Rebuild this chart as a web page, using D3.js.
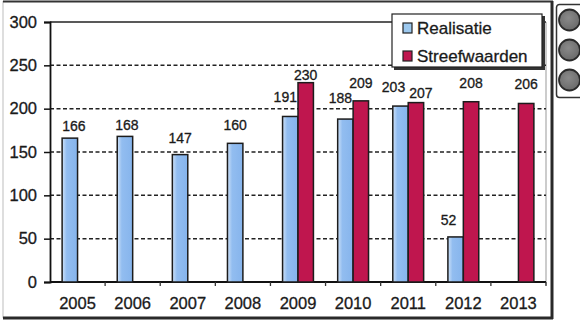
<!DOCTYPE html>
<html><head><meta charset="utf-8">
<script src="https://cdn.jsdelivr.net/npm/d3@7"></script>
<style>body{margin:0;background:#fff}svg{display:block}text{font-family:"Liberation Sans",Arial,sans-serif;fill:#1a1a1a;stroke:#1a1a1a;stroke-width:0.3px}</style>
</head><body><svg id="c" width="580" height="322"></svg>
<script>
const years = ["2005","2006","2007","2008","2009","2010","2011","2012","2013"];
const realisatie = [166,168,147,160,191,188,203,52,null];
const streefwaarden = [null,null,null,null,230,209,207,208,206];
const seriesNames = ["Realisatie","Streefwaarden"];
const yTicks = [0,50,100,150,200,250,300];
// label nudges [dx, dy] (layout only)
const nudgeReal = [[4,-7],[2,-6],[0,-12],[0,-13],[-5,-14],[-5,-16],[-7,-14],[-7,-12],[0,0]];
const nudgeTarget = [[0,0],[0,0],[0,0],[0,0],[0,-3],[0,-13],[5,-5],[0,-14],[0,-14]];

const svg = d3.select("#c");
const defs = svg.append("defs");
const g1 = defs.append("linearGradient").attr("id","gb").attr("x1","0").attr("x2","1");
g1.append("stop").attr("offset","0").attr("stop-color","#cfe2f8");
g1.append("stop").attr("offset","0.3").attr("stop-color","#92bdf0");
g1.append("stop").attr("offset","1").attr("stop-color","#86b4ec");
const g2 = defs.append("radialGradient").attr("id","gc").attr("cx","0.45").attr("cy","0.4").attr("r","0.6");
g2.append("stop").attr("offset","0").attr("stop-color","#8a8a8a");
g2.append("stop").attr("offset","1").attr("stop-color","#6a6a6a");

// outer frame
svg.append("rect").attr("x",3).attr("y",1.5).attr("width",549).attr("height",316)
  .attr("fill","none").attr("stroke","#bdbdbd").attr("stroke-width",1);
svg.append("line").attr("x1",3).attr("x2",553).attr("y1",1.5).attr("y2",1.5).attr("stroke","#333").attr("stroke-width",2);
svg.append("line").attr("x1",552).attr("x2",552).attr("y1",1).attr("y2",319).attr("stroke","#2a2a2a").attr("stroke-width",3);
svg.append("line").attr("x1",3).attr("x2",553).attr("y1",318).attr("y2",318).attr("stroke","#2a2a2a").attr("stroke-width",3);

const L=50, R=546, T=22, B=282;
const x0 = d3.scaleBand().domain(years).range([L,R]).paddingInner(0.44).paddingOuter(0.22);
const x1 = d3.scaleBand().domain(seriesNames).range([0,x0.bandwidth()]);
const y = d3.scaleLinear().domain([0,300]).range([B,T]);

// plot border (right + top)
svg.append("line").attr("x1",R).attr("x2",R).attr("y1",T).attr("y2",B+3).attr("stroke","#999").attr("stroke-width",1);
svg.append("line").attr("x1",L).attr("x2",R).attr("y1",T).attr("y2",T).attr("stroke","#222").attr("stroke-width",1.5);

// gridlines
svg.append("g").selectAll("line").data(yTicks.filter(d=>d>0&&d<300)).join("line")
  .attr("x1",L).attr("x2",R).attr("y1",d=>y(d)).attr("y2",d=>y(d))
  .attr("stroke","#222").attr("stroke-width",1.5).attr("stroke-dasharray","4,2.5");

// y axis
const ya = svg.append("g").attr("transform",`translate(${L},0)`)
  .call(d3.axisLeft(y).tickValues(yTicks).tickSize(6).tickPadding(7));
ya.select(".domain").attr("stroke","#111").attr("stroke-width",1.8);
ya.selectAll(".tick line").attr("stroke","#111").attr("stroke-width",1.5);
ya.selectAll("text").style("font-size","16.5px").attr("fill","#1a1a1a");

// x axis
const xs = d3.scalePoint().domain(d3.range(years.length+1)).range([L,R]);
const xa = svg.append("g").attr("transform",`translate(0,${B})`);
xa.append("line").attr("x1",L).attr("x2",R).attr("stroke","#111").attr("stroke-width",1.8);
xa.selectAll(".tk").data(d3.range(1,years.length+1)).join("line").attr("class","tk")
  .attr("x1",d=>xs(d)).attr("x2",d=>xs(d)).attr("y1",0).attr("y2",4).attr("stroke","#333").attr("stroke-width",1.3);
xa.selectAll("text").data(years).join("text")
  .attr("x",d=>x0(d)+x0.bandwidth()/2).attr("y",27).attr("text-anchor","middle")
  .style("font-size","16.5px").text(d=>d);

// bars
const bars = svg.append("g");
years.forEach((yr,i)=>{
  [[realisatie[i],0,"url(#gb)",nudgeReal[i]],[streefwaarden[i],1,"#bf164e",nudgeTarget[i]]].forEach(([v,s,fill,nd])=>{
    if(v==null) return;
    const bx = x0(yr)+x1(seriesNames[s]);
    bars.append("rect").attr("x",bx).attr("y",y(v)).attr("width",x1.bandwidth()).attr("height",B-y(v))
      .attr("fill",fill).attr("stroke","#1c1c1c").attr("stroke-width",1.5);
    bars.append("text").attr("x",bx+x1.bandwidth()/2+nd[0]).attr("y",y(v)+nd[1])
      .attr("text-anchor","middle").style("font-size","14px").text(v);
  });
});

// legend
const lg = svg.append("g");
lg.append("rect").attr("x",394).attr("y",16).attr("width",151).attr("height",54).attr("fill","#333");
lg.append("rect").attr("x",392).attr("y",14).attr("width",150).attr("height",53).attr("fill","#fff").attr("stroke","#222").attr("stroke-width",1.2);
seriesNames.forEach((n,i)=>{
  lg.append("rect").attr("x",403).attr("y",23+i*28).attr("width",9).attr("height",10)
    .attr("fill",i==0?"#9cc8ee":"#bf164e").attr("stroke","#222").attr("stroke-width",1.2);
  lg.append("text").attr("x",417).attr("y",34+i*28).style("font-size","17px").text(n);
});

// right-side indicator panel
const rp = svg.append("g");
rp.append("rect").attr("x",556.5).attr("y",4.5).attr("width",30).attr("height",93).attr("rx",3)
  .attr("fill","#fff").attr("stroke","#333").attr("stroke-width",1.5);
[20,50,80].forEach(cy=>{
  rp.append("circle").attr("cx",569.5).attr("cy",cy).attr("r",10.5).attr("fill","url(#gc)").attr("stroke","#2a2a2a").attr("stroke-width",1.8);
});
</script></body></html>
